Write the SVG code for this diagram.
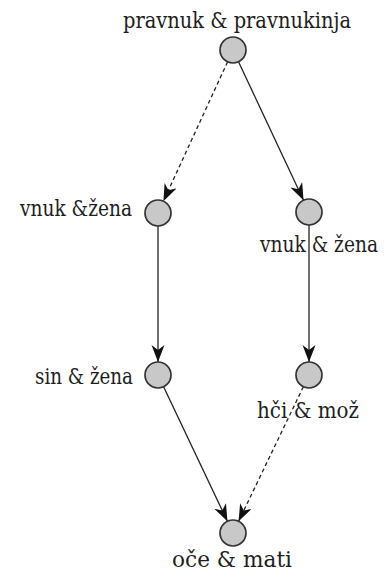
<svg xmlns="http://www.w3.org/2000/svg" width="391" height="572" viewBox="0 0 391 572">
  <style>
    .edge { stroke: #222; stroke-width: 1.3; fill: none; marker-end: url(#arrow); }
    .dashed { stroke-dasharray: 4 3; }
    .node circle { fill: #c8c8c8; stroke: #333333; stroke-width: 1.7; }
    .label { font-family: 'DejaVu Serif', serif; font-size: 22px; fill: #1e1e1e; }
  </style>
  <defs>
    <marker id="arrow" markerUnits="userSpaceOnUse" markerWidth="18" markerHeight="14" refX="17" refY="6.5" orient="auto">
      <path d="M0,0 L17,6.5 L0,13 L5,6.5 Z" fill="#111"/>
    </marker>
  </defs>
  <rect width="391" height="572" fill="#ffffff"/>

  <!-- connectors -->
  <g id="edges">
    <line class="edge dashed" x1="227.6" y1="61.8" x2="163.4" y2="201.2"/>
    <line class="edge" x1="238.5" y1="61.8" x2="303.5" y2="200.2"/>
    <line class="edge" x1="158" y1="226" x2="158" y2="362"/>
    <line class="edge" x1="309" y1="225" x2="309" y2="362"/>
    <line class="edge" x1="163.6" y1="386.7" x2="227.4" y2="521.3"/>
    <line class="edge dashed" x1="303.4" y1="386.7" x2="238.6" y2="521.3"/>
  </g>

  <!-- nodes -->
  <g id="pravnuk" class="node">
    <circle cx="233" cy="50" r="13"/>
    <text class="label" x="123" y="28" textLength="228" lengthAdjust="spacingAndGlyphs">pravnuk &amp; pravnukinja</text>
  </g>
  <g id="vnuk-left" class="node">
    <circle cx="158" cy="213" r="13"/>
    <text class="label" x="20" y="216" textLength="112" lengthAdjust="spacingAndGlyphs">vnuk &amp;žena</text>
  </g>
  <g id="vnuk-right" class="node">
    <circle cx="309" cy="212" r="13"/>
    <text class="label" x="260" y="252" textLength="118" lengthAdjust="spacingAndGlyphs">vnuk &amp; žena</text>
  </g>
  <g id="sin" class="node">
    <circle cx="158" cy="375" r="13"/>
    <text class="label" x="35" y="384" textLength="98" lengthAdjust="spacingAndGlyphs">sin &amp; žena</text>
  </g>
  <g id="hci" class="node">
    <circle cx="309" cy="375" r="13"/>
    <text class="label" x="257" y="418" textLength="102" lengthAdjust="spacingAndGlyphs">hči &amp; mož</text>
  </g>
  <g id="oce" class="node">
    <circle cx="233" cy="533" r="13"/>
    <text class="label" x="172" y="567" textLength="120" lengthAdjust="spacingAndGlyphs">oče &amp; mati</text>
  </g>
</svg>
